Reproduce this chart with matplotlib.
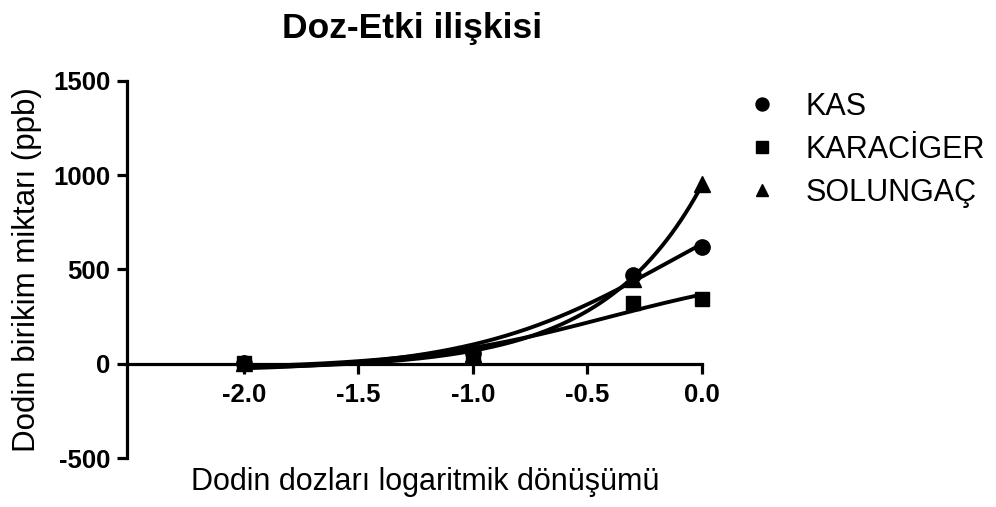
import numpy as np
import matplotlib
matplotlib.use('Agg')
import matplotlib.pyplot as plt

plt.rcParams['font.family'] = ['Liberation Sans', 'DejaVu Sans']
plt.rcParams['axes.unicode_minus'] = False

log_doz = np.array([-2.0, -1.0, -0.301, 0.0])
kas = np.array([3, 55, 470, 620])
karaciger = np.array([5, 45, 323, 344])
solungac = np.array([2, 50, 450, 953])

seriler = [('KAS', kas, 'o', 11), ('KARACİGER', karaciger, 's', 10), ('SOLUNGAÇ', solungac, '^', 11)]


# log(agonist) vs response, Hill slope = 1 : bottom, top, logEC50
def sigmoid_fit(x, y):
    best = None
    for L in np.linspace(-2.0, 3.0, 2001):
        f = 1.0 / (1.0 + 10 ** (L - x))
        A = np.column_stack([1 - f, f])
        coef = np.linalg.lstsq(A, y, rcond=None)[0]
        err = np.sum((A @ coef - y) ** 2)
        if best is None or err < best[0]:
            best = (err, coef[0], coef[1], L)
    _, b, t, L = best
    return lambda xx: b + (t - b) / (1.0 + 10 ** (L - xx))


fig = plt.figure(figsize=(9.96, 5.07), dpi=100)
ax = fig.add_axes([127/996, 1-458/507, 575/996, (458-80.7)/507])

xx = np.linspace(-2, 0, 300)
handles = []
for ad, y, m, ms in seriler:
    f = sigmoid_fit(log_doz, y)
    ax.plot(xx, f(xx), color='black', lw=2.8, clip_on=False)
    h, = ax.plot(log_doz, y, m, color='black', ms=ms, clip_on=False, zorder=3, label=ad)
    handles.append(h)

ax.set_xlim(-2.51, 0)
ax.set_ylim(-500, 1500)
ax.spines['top'].set_visible(False)
ax.spines['right'].set_visible(False)
ax.spines['bottom'].set_position(('data', 0))
for s in ['left', 'bottom']:
    ax.spines[s].set_linewidth(2.3)
ax.set_xticks([-2.0, -1.5, -1.0, -0.5, 0.0])
ax.set_xticklabels(['-2.0', '-1.5', '-1.0', '-0.5', '0.0'])
ax.set_yticks([-500, 0, 500, 1000, 1500])
ax.set_yticklabels(['-500', '0', '500', '1000', '1500'])
ax.tick_params(direction='out', length=7, width=2.3, labelsize=18.5)
ax.tick_params(axis='x', pad=7)
ax.tick_params(axis='y', pad=5)
for lab in ax.get_xticklabels() + ax.get_yticklabels():
    lab.set_fontweight('bold')

fig.text(412/996, 1-38/507, 'Doz-Etki ilişkisi', fontsize=25.5, fontweight='bold', ha='center', va='baseline')
fig.text(425/996, 1-482/507, 'Dodin dozları logaritmik dönüşümü', fontsize=22, ha='center', va='center')
fig.text(27/996, 1-270/507, 'Dodin birikim miktarı (ppb)', fontsize=22.5, rotation=90, ha='center', va='center')

ax.legend(handles=handles, loc='upper left', bbox_to_anchor=(747/996, 1-92/507), bbox_transform=fig.transFigure,
          frameon=False, fontsize=22, handlelength=1.0, handletextpad=0.92, borderpad=0, borderaxespad=0,
          labelspacing=0.42, markerscale=0.85)

fig.savefig('out.png', dpi=100)
